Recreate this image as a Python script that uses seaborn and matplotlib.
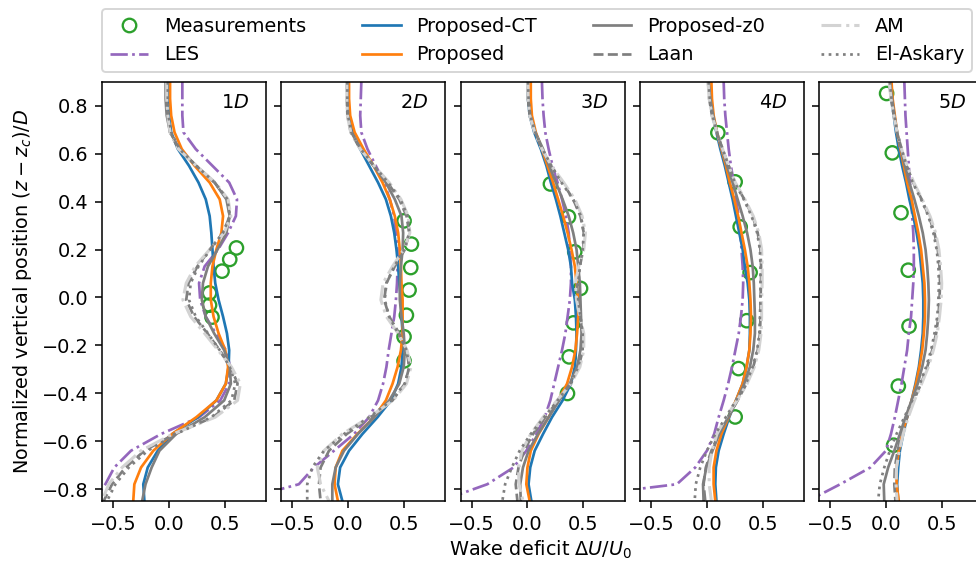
import matplotlib
matplotlib.use("Agg")
import matplotlib.pyplot as plt
from matplotlib.lines import Line2D
import seaborn as sns

# vertical sample positions (z - z_c)/D, shared by every profile
z = [0.90, 0.83, 0.76, 0.69, 0.62, 0.55, 0.48, 0.41, 0.34, 0.27, 0.20, 0.13, 0.06,
     -0.01, -0.08, -0.15, -0.22, -0.29, -0.36, -0.43, -0.50, -0.57, -0.64, -0.71, -0.78, -0.85]

# 1D
les_1 = [0.12, 0.12, 0.12, 0.13, 0.24, 0.39, 0.54, 0.61, 0.60, 0.53, 0.44, 0.32, 0.27, 0.28, 0.33, 0.42, 0.51, 0.55, 0.54, 0.46, 0.27, -0.07, -0.34, -0.49, -0.57, -0.68]
ct_1 = [-0.01, -0.01, 0.0, 0.02, 0.08, 0.18, 0.265, 0.33, 0.365, 0.38, 0.39, 0.40, 0.415, 0.445, 0.485, 0.52, 0.54, 0.535, 0.51, 0.425, 0.26, 0.03, -0.10, -0.19, -0.23, -0.22]
prop_1 = [0.01, 0.01, 0.02, 0.05, 0.115, 0.23, 0.365, 0.455, 0.485, 0.47, 0.425, 0.39, 0.375, 0.375, 0.40, 0.445, 0.505, 0.53, 0.51, 0.425, 0.245, 0.03, -0.14, -0.25, -0.31, -0.32]
z0_1 = [-0.03, -0.03, -0.02, 0.01, 0.095, 0.245, 0.41, 0.515, 0.545, 0.515, 0.435, 0.35, 0.305, 0.295, 0.33, 0.405, 0.495, 0.545, 0.555, 0.495, 0.32, 0.065, -0.085, -0.155, -0.21, -0.24]
laan_1 = [-0.02, -0.02, -0.01, 0.01, 0.085, 0.245, 0.41, 0.525, 0.545, 0.485, 0.365, 0.255, 0.175, 0.155, 0.225, 0.345, 0.455, 0.555, 0.615, 0.585, 0.395, 0.05, -0.22, -0.39, -0.51, -0.585]
am_1 = [-0.02, -0.02, -0.01, 0.01, 0.085, 0.245, 0.415, 0.53, 0.555, 0.495, 0.365, 0.235, 0.155, 0.125, 0.195, 0.32, 0.44, 0.56, 0.64, 0.615, 0.415, 0.035, -0.25, -0.42, -0.54, -0.60]
ela_1 = [-0.01, -0.01, -0.005, 0.02, 0.095, 0.245, 0.41, 0.525, 0.545, 0.485, 0.37, 0.265, 0.195, 0.18, 0.24, 0.35, 0.455, 0.545, 0.595, 0.56, 0.38, 0.065, -0.19, -0.36, -0.48, -0.555]

# 2D
les_2 = [0.12, 0.115, 0.11, 0.12, 0.175, 0.25, 0.325, 0.375, 0.415, 0.43, 0.445, 0.445, 0.44, 0.43, 0.415, 0.39, 0.365, 0.345, 0.315, 0.27, 0.19, 0.055, -0.125, -0.305, -0.44, -1.0]
ct_2 = [-0.005, -0.005, 0.005, 0.04, 0.11, 0.19, 0.27, 0.34, 0.385, 0.415, 0.435, 0.45, 0.46, 0.475, 0.48, 0.49, 0.49, 0.48, 0.45, 0.385, 0.265, 0.13, 0.01, -0.07, -0.09, -0.05]
prop_2 = [0.01, 0.01, 0.02, 0.06, 0.14, 0.23, 0.31, 0.375, 0.42, 0.45, 0.465, 0.475, 0.48, 0.49, 0.49, 0.49, 0.475, 0.445, 0.40, 0.34, 0.235, 0.085, -0.05, -0.11, -0.12, -0.09]
z0_2 = [-0.005, -0.005, 0.0, 0.03, 0.115, 0.23, 0.34, 0.42, 0.48, 0.495, 0.49, 0.475, 0.465, 0.465, 0.48, 0.50, 0.51, 0.50, 0.46, 0.37, 0.235, 0.09, -0.035, -0.11, -0.14, -0.14]
laan_2 = [-0.01, -0.01, -0.005, 0.025, 0.11, 0.23, 0.355, 0.46, 0.525, 0.55, 0.51, 0.42, 0.345, 0.325, 0.37, 0.46, 0.525, 0.55, 0.51, 0.40, 0.205, -0.01, -0.17, -0.245, -0.26, -0.245]
am_2 = [-0.01, -0.01, -0.005, 0.025, 0.11, 0.235, 0.37, 0.475, 0.54, 0.555, 0.50, 0.40, 0.315, 0.295, 0.345, 0.45, 0.53, 0.565, 0.525, 0.405, 0.19, -0.05, -0.215, -0.275, -0.245, -0.17]
ela_2 = [-0.005, -0.005, 0.0, 0.03, 0.115, 0.235, 0.36, 0.47, 0.535, 0.55, 0.505, 0.415, 0.345, 0.33, 0.37, 0.45, 0.525, 0.55, 0.51, 0.39, 0.19, -0.035, -0.215, -0.32, -0.365, -0.365]

# 3D
les_3 = [0.13, 0.135, 0.145, 0.16, 0.19, 0.225, 0.27, 0.31, 0.345, 0.37, 0.38, 0.39, 0.39, 0.38, 0.36, 0.34, 0.31, 0.275, 0.24, 0.205, 0.155, 0.08, -0.01, -0.125, -0.36, -0.78]
ct_3 = [0.0, 0.005, 0.02, 0.06, 0.12, 0.17, 0.21, 0.255, 0.295, 0.33, 0.365, 0.39, 0.40, 0.425, 0.435, 0.44, 0.435, 0.425, 0.39, 0.315, 0.22, 0.14, 0.065, 0.025, 0.01, 0.035]
prop_3 = [0.03, 0.03, 0.04, 0.075, 0.13, 0.18, 0.23, 0.275, 0.32, 0.36, 0.395, 0.425, 0.44, 0.455, 0.455, 0.445, 0.43, 0.40, 0.355, 0.275, 0.19, 0.10, 0.03, 0.0, -0.01, 0.02]
z0_3 = [0.0, 0.005, 0.025, 0.07, 0.14, 0.195, 0.255, 0.315, 0.37, 0.41, 0.44, 0.455, 0.47, 0.475, 0.48, 0.485, 0.475, 0.445, 0.38, 0.285, 0.19, 0.095, 0.01, -0.04, -0.065, -0.06]
laan_3 = [0.0, 0.005, 0.02, 0.065, 0.13, 0.21, 0.315, 0.41, 0.475, 0.505, 0.50, 0.47, 0.445, 0.45, 0.475, 0.495, 0.495, 0.46, 0.39, 0.275, 0.16, 0.05, -0.03, -0.08, -0.105, -0.09]
am_3 = [0.0, 0.005, 0.02, 0.065, 0.13, 0.215, 0.325, 0.425, 0.49, 0.52, 0.505, 0.46, 0.43, 0.44, 0.47, 0.505, 0.505, 0.47, 0.39, 0.265, 0.14, 0.03, -0.05, -0.08, -0.075, -0.04]
ela_3 = [0.005, 0.01, 0.025, 0.07, 0.135, 0.215, 0.305, 0.41, 0.48, 0.505, 0.495, 0.47, 0.455, 0.455, 0.475, 0.495, 0.49, 0.455, 0.385, 0.27, 0.15, 0.03, -0.07, -0.14, -0.20, -0.225]

# 4D
les_4 = [0.15, 0.155, 0.165, 0.18, 0.195, 0.215, 0.24, 0.26, 0.285, 0.30, 0.31, 0.32, 0.325, 0.32, 0.305, 0.285, 0.255, 0.225, 0.19, 0.15, 0.105, 0.065, 0.0, -0.105, -0.27, -1.5]
ct_4 = [0.015, 0.03, 0.05, 0.085, 0.12, 0.16, 0.195, 0.23, 0.26, 0.29, 0.32, 0.34, 0.365, 0.38, 0.385, 0.385, 0.38, 0.355, 0.32, 0.26, 0.20, 0.15, 0.105, 0.08, 0.075, 0.085]
prop_4 = [0.04, 0.045, 0.06, 0.09, 0.13, 0.17, 0.205, 0.245, 0.28, 0.31, 0.34, 0.365, 0.38, 0.39, 0.395, 0.39, 0.38, 0.355, 0.32, 0.26, 0.195, 0.13, 0.085, 0.06, 0.06, 0.075]
z0_4 = [0.015, 0.03, 0.055, 0.09, 0.135, 0.18, 0.23, 0.275, 0.32, 0.36, 0.39, 0.41, 0.42, 0.425, 0.43, 0.43, 0.415, 0.385, 0.335, 0.27, 0.19, 0.11, 0.05, -0.005, -0.035, -0.03]
laan_4 = [0.01, 0.02, 0.045, 0.09, 0.14, 0.195, 0.25, 0.335, 0.41, 0.455, 0.48, 0.485, 0.485, 0.48, 0.48, 0.475, 0.455, 0.415, 0.355, 0.275, 0.19, 0.105, 0.04, -0.01, -0.03, -0.015]
am_4 = [0.01, 0.02, 0.045, 0.09, 0.14, 0.195, 0.255, 0.34, 0.415, 0.465, 0.49, 0.495, 0.495, 0.49, 0.49, 0.485, 0.465, 0.425, 0.36, 0.27, 0.17, 0.09, 0.045, 0.02, 0.02, 0.04]
ela_4 = [0.015, 0.025, 0.05, 0.09, 0.14, 0.195, 0.25, 0.33, 0.40, 0.45, 0.475, 0.48, 0.48, 0.48, 0.475, 0.47, 0.45, 0.41, 0.35, 0.26, 0.17, 0.075, 0.0, -0.06, -0.10, -0.11]

# 5D
les_5 = [0.165, 0.17, 0.175, 0.185, 0.195, 0.205, 0.215, 0.23, 0.235, 0.245, 0.25, 0.25, 0.245, 0.235, 0.225, 0.205, 0.19, 0.165, 0.14, 0.11, 0.08, 0.045, 0.0, -0.14, -0.41, -0.70]
ct_5 = [0.035, 0.05, 0.07, 0.09, 0.115, 0.145, 0.18, 0.21, 0.245, 0.275, 0.30, 0.315, 0.33, 0.335, 0.335, 0.33, 0.315, 0.295, 0.265, 0.23, 0.19, 0.155, 0.125, 0.11, 0.10, 0.11]
prop_5 = [0.05, 0.06, 0.08, 0.10, 0.13, 0.16, 0.19, 0.23, 0.26, 0.29, 0.315, 0.33, 0.345, 0.35, 0.35, 0.34, 0.325, 0.30, 0.27, 0.23, 0.19, 0.145, 0.115, 0.095, 0.095, 0.115]
z0_5 = [0.035, 0.055, 0.075, 0.10, 0.135, 0.17, 0.21, 0.255, 0.295, 0.33, 0.355, 0.37, 0.38, 0.385, 0.38, 0.37, 0.355, 0.325, 0.285, 0.23, 0.175, 0.125, 0.075, 0.02, -0.02, -0.015]
laan_5 = [0.03, 0.045, 0.07, 0.10, 0.14, 0.185, 0.245, 0.32, 0.385, 0.435, 0.465, 0.48, 0.485, 0.48, 0.47, 0.45, 0.415, 0.37, 0.315, 0.25, 0.19, 0.14, 0.105, 0.08, 0.075, 0.085]
am_5 = [0.03, 0.045, 0.07, 0.10, 0.14, 0.19, 0.25, 0.325, 0.395, 0.445, 0.475, 0.49, 0.50, 0.495, 0.48, 0.46, 0.425, 0.38, 0.32, 0.255, 0.20, 0.155, 0.12, 0.095, 0.09, 0.10]
ela_5 = [0.035, 0.05, 0.075, 0.10, 0.14, 0.185, 0.24, 0.315, 0.38, 0.425, 0.455, 0.47, 0.475, 0.47, 0.46, 0.435, 0.405, 0.36, 0.305, 0.235, 0.165, 0.095, 0.035, -0.015, -0.055, -0.07]

# measurements
meas_x_1 = [0.605, 0.545, 0.476, 0.364, 0.364, 0.386]
meas_z_1 = [0.207, 0.159, 0.110, 0.019, -0.032, -0.082]
meas_x_2 = [0.503, 0.569, 0.563, 0.548, 0.524, 0.503, 0.503]
meas_z_2 = [0.320, 0.223, 0.125, 0.031, -0.074, -0.164, -0.265]
meas_x_3 = [0.206, 0.368, 0.424, 0.476, 0.412, 0.374, 0.359]
meas_z_3 = [0.474, 0.337, 0.191, 0.038, -0.106, -0.248, -0.401]
meas_x_4 = [0.098, 0.253, 0.298, 0.387, 0.357, 0.283, 0.253]
meas_z_4 = [0.688, 0.483, 0.295, 0.104, -0.097, -0.297, -0.499]
meas_x_5 = [0.006, 0.057, 0.135, 0.200, 0.207, 0.111, 0.069]
meas_z_5 = [0.852, 0.604, 0.354, 0.114, -0.120, -0.370, -0.617]

distances = [1, 2, 3, 4, 5]
models = ["LES", "Proposed-CT", "Proposed", "Proposed-z0", "Laan", "AM", "El-Askary"]

profiles = {
    1: [les_1, ct_1, prop_1, z0_1, laan_1, am_1, ela_1],
    2: [les_2, ct_2, prop_2, z0_2, laan_2, am_2, ela_2],
    3: [les_3, ct_3, prop_3, z0_3, laan_3, am_3, ela_3],
    4: [les_4, ct_4, prop_4, z0_4, laan_4, am_4, ela_4],
    5: [les_5, ct_5, prop_5, z0_5, laan_5, am_5, ela_5],
}
meas = {
    1: (meas_x_1, meas_z_1), 2: (meas_x_2, meas_z_2), 3: (meas_x_3, meas_z_3),
    4: (meas_x_4, meas_z_4), 5: (meas_x_5, meas_z_5),
}

styles = {
    "LES": dict(color="#9467bd", ls="-.", lw=1.4),
    "Proposed-CT": dict(color="#1f77b4", ls="-", lw=1.4),
    "Proposed": dict(color="#ff7f0e", ls="-", lw=1.4),
    "Proposed-z0": dict(color="#7f7f7f", ls="-", lw=1.4),
    "Laan": dict(color="#7f7f7f", ls="--", lw=1.4),
    "AM": dict(color="#d3d3d3", ls="-.", lw=1.6),
    "El-Askary": dict(color="#7f7f7f", ls=":", lw=1.4),
}
green = "#2ca02c"

dpi = 139
fig = plt.figure(figsize=(976 / dpi, 562 / dpi), dpi=dpi)

lefts = [102, 281, 460.5, 640, 819]
axes = []
for i, d in enumerate(distances):
    ax = fig.add_axes([lefts[i] / 976, 61 / 562, 164 / 976, 419 / 562])
    axes.append(ax)

    mx, mz = meas[d]
    sns.scatterplot(x=mx, y=mz, ax=ax, marker="o", s=48, facecolors="none",
                    edgecolor=green, linewidth=1.2, zorder=1)
    for name, xs in zip(models, profiles[d]):
        st = styles[name]
        sns.lineplot(x=xs, y=z, ax=ax, sort=False, estimator=None,
                     color=st["color"], linestyle=st["ls"], lw=st["lw"])

    ax.set_xlim(-0.6, 0.87)
    ax.set_ylim(-0.85, 0.9)
    ax.set_xticks([-0.5, 0.0, 0.5])
    ax.set_yticks([-0.8, -0.6, -0.4, -0.2, 0.0, 0.2, 0.4, 0.6, 0.8])
    ax.set_xlabel("")
    ax.set_ylabel("")
    if i > 0:
        ax.set_yticklabels([])
    ax.text(0.9, 0.95, f"{d}$D$", transform=ax.transAxes, ha="right", va="center")

axes[0].set_ylabel("Normalized vertical position $(z-z_c)/D$")
fig.text(0.554, 0.022, "Wake deficit $\\Delta U/U_0$", ha="center", va="center")

handles = [Line2D([], [], ls="none", marker="o", mfc="none", mec=green, ms=7, mew=1.2,
                  label="Measurements")]
for name in models:
    st = styles[name]
    handles.append(Line2D([], [], color=st["color"], ls=st["ls"], lw=st["lw"], label=name))
fig.legend(handles=handles, ncol=4, loc="upper left", columnspacing=2.9,
           bbox_to_anchor=(102 / 976, 1 - 9 / 562), borderaxespad=0)

fig.savefig("out.png", dpi=dpi)
